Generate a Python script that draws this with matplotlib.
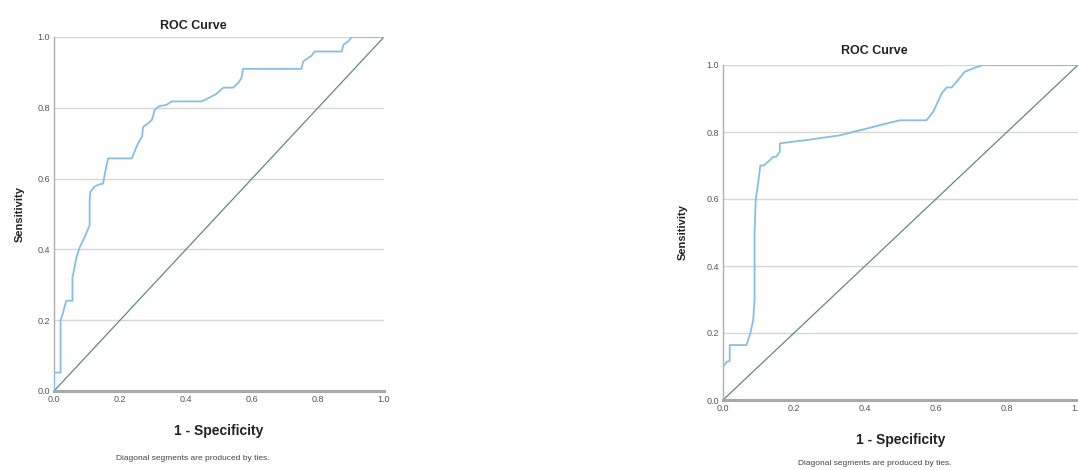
import matplotlib
matplotlib.use("Agg")
import matplotlib.pyplot as plt

plt.rcParams['font.family'] = ['Liberation Sans', 'DejaVu Sans']

# left ROC curve
left_fpr = [0, 0, .02, .02, .027, .037, .056, .056, .068, .078, .093, .108, .108, .11, .123,
            .139, .149, .154, .164, .236, .25, .26, .267, .27, .285, .297, .305, .312, .32,
            .34, .357, .448, .467, .492, .513, .543, .558, .568, .573, .75, .755, .78, .79,
            .872, .877, .892, .902, 1.0]
left_tpr = [0, .052, .052, .20, .22, .255, .255, .32, .378, .406, .435, .468, .539, .562, .578,
            .584, .586, .614, .657, .657, .69, .709, .718, .746, .756, .766, .794, .80, .805,
            .808, .818, .818, .827, .839, .857, .857, .87, .884, .91, .91, .931, .947, .959,
            .959, .978, .988, 1.0, 1.0]

# right ROC curve
right_fpr = [0, 0, .011, .019, .019, .066, .077, .085, .089, .089, .092, .099, .105, .115, .132,
             .141, .15, .16, .16, .235, .329, .404, .44, .498, .573, .592, .616, .63, .644,
             .658, .681, .705, .733, 1.0]
right_tpr = [0, .1, .114, .117, .164, .164, .199, .239, .299, .498, .597, .647, .70, .70, .716,
             .726, .726, .741, .766, .776, .79, .81, .82, .835, .835, .86, .915, .933, .933,
             .95, .98, .99, 1.0, 1.0]

ticks = [0.0, 0.2, 0.4, 0.6, 0.8, 1.0]
tick_labels = ['0.0', '0.2', '0.4', '0.6', '0.8', '1.0']

curve_col = '#86bfdf'
diag_col = '#5e8b7e'
grid_col = '#d6d6d6'

W, H = 1078, 470
fig = plt.figure(figsize=(W / 100, H / 100), dpi=100)

def px_axes(x0, y0, x1, y1):
    return fig.add_axes([x0 / W, 1 - y1 / H, (x1 - x0) / W, (y1 - y0) / H])

def roc_panel(ax, fpr, tpr, title_y, ylab_x):
    ax.set_xlim(0, 1)
    ax.set_ylim(0, 1)
    for t in ticks[1:]:
        ax.axhline(t, color=grid_col, lw=1.0, zorder=0)
    ax.plot([0, 1], [0, 1], color=diag_col, lw=0.9, zorder=2)
    ax.plot(fpr, tpr, color=curve_col, lw=1.3, zorder=3)
    ax.spines['top'].set_visible(False)
    ax.spines['right'].set_visible(False)
    ax.spines['left'].set_color('#b0b0b0')
    ax.spines['left'].set_linewidth(1.0)
    ax.spines['bottom'].set_color('#a8a8a8')
    ax.spines['bottom'].set_linewidth(2.2)
    ax.set_xticks(ticks)
    ax.set_xticklabels(tick_labels)
    ax.set_yticks(ticks)
    ax.set_yticklabels(tick_labels)
    ax.tick_params(length=0, labelsize=6.5, labelcolor='#555555', pad=3)
    w = ax.get_position().width * W
    ax.text(0.5 - 26 / w, title_y, 'ROC Curve', transform=ax.transAxes, ha='center',
            va='bottom', fontsize=9, fontweight='bold', color='#222222')
    ax.set_xlabel('1 - Specificity', fontsize=10, fontweight='bold', color='#222222',
                  labelpad=14)
    ax.set_ylabel('Sensitivity', fontsize=8, fontweight='bold', color='#222222')
    ax.yaxis.set_label_coords(ylab_x, 0.5)
    ax.text(0.5 - 26 / w, -0.19, 'Diagonal segments are produced by ties.',
            transform=ax.transAxes, ha='center', va='center', fontsize=6,
            color='#444444')

ax1 = px_axes(54, 37, 384, 391)
roc_panel(ax1, left_fpr, left_tpr, 1.015, -0.09)

ax2 = px_axes(723, 65, 1078, 400)
roc_panel(ax2, right_fpr, right_tpr, 1.025, -0.098)

fig.savefig('out.png', dpi=100)
